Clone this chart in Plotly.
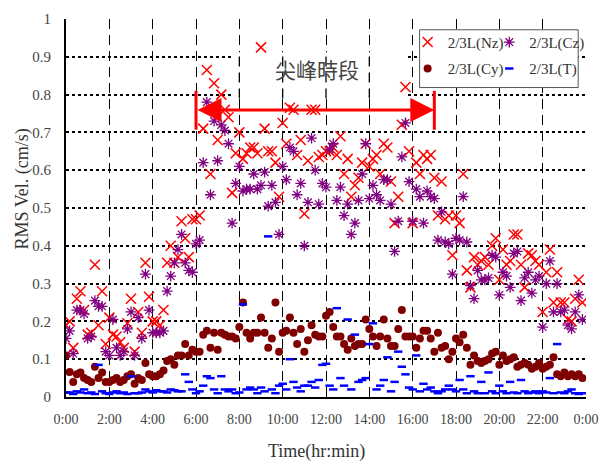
import plotly.graph_objects as go

# ---- data (10-minute samples over one day, minutes since 0:00) ----
minutes = list(range(0, 1440, 10))

nz = [0.19, 0.20, 0.13, 0.26, 0.28, 0.23, 0.165, 0.17, 0.35, 0.19, 0.28, 0.14,
      0.21, 0.165, 0.16, 0.145, 0.13, 0.195, 0.26, 0.12, 0.225, 0.17, 0.355, 0.265,
      0.20, 0.20, 0.19, 0.23, 0.355, 0.40, 0.355, 0.37, 0.465, 0.42, 0.37, 0.47,
      0.47, 0.48, 0.71, 0.865, 0.59, 0.83, 0.68, 0.80, 0.76, 0.74, 0.54, 0.645,
      0.70, 0.63, 0.645, 0.66, 0.66, 0.645, 0.925, 0.71, 0.65, 0.65, 0.62, 0.53,
      0.725, 0.67, 0.765, 0.76, 0.64, 0.68, 0.485, 0.625, 0.76, 0.76, 0.635, 0.64,
      0.65, 0.65, 0.66, 0.64, 0.69, 0.59, 0.63, 0.53, 0.56, 0.58, 0.62, 0.67,
      0.61, 0.63, 0.64, 0.59, 0.67, 0.66, 0.57, 0.46, 0.53, 0.72, 0.82, 0.65,
      0.46, 0.62, 0.59, 0.64, 0.63, 0.64, 0.58, 0.48, 0.57, 0.47, 0.48, 0.375,
      0.48, 0.46, 0.59, 0.335, 0.29, 0.37, 0.35, 0.36, 0.37, 0.35, 0.40, 0.42,
      0.31, 0.39, 0.35, 0.36, 0.43, 0.43, 0.35, 0.29, 0.38, 0.375, 0.36, 0.35,
      0.225, 0.33, 0.39, 0.25, 0.33, 0.25, 0.25, 0.205, 0.20, 0.26, 0.31, 0.25]

cz = [0.155, 0.175, 0.115, 0.23, 0.23, 0.22, 0.155, 0.16, 0.255, 0.24, 0.24, 0.12,
      0.11, 0.205, 0.13, 0.11, 0.12, 0.18, 0.225, 0.11, 0.21, 0.155, 0.325, 0.23,
      0.17, 0.17, 0.17, 0.175, 0.28, 0.32, 0.355, 0.39, 0.43, 0.355, 0.335, 0.33,
      0.405, 0.415, 0.62, 0.78, 0.535, 0.73, 0.625, 0.72, 0.705, 0.67, 0.46, 0.565,
      0.61, 0.545, 0.55, 0.55, 0.59, 0.55, 0.56, 0.595, 0.505, 0.56, 0.515, 0.43,
      0.61, 0.575, 0.66, 0.65, 0.535, 0.565, 0.40, 0.515, 0.685, 0.60, 0.51, 0.565,
      0.555, 0.655, 0.67, 0.52, 0.555, 0.48, 0.51, 0.43, 0.46, 0.52, 0.59, 0.67,
      0.525, 0.56, 0.535, 0.52, 0.575, 0.575, 0.51, 0.385, 0.465, 0.635, 0.725, 0.57,
      0.465, 0.55, 0.53, 0.46, 0.545, 0.53, 0.525, 0.415, 0.49, 0.41, 0.405, 0.325,
      0.42, 0.415, 0.53, 0.41, 0.295, 0.26, 0.335, 0.31, 0.31, 0.315, 0.375, 0.37,
      0.27, 0.33, 0.32, 0.29, 0.38, 0.385, 0.255, 0.315, 0.33, 0.275, 0.31, 0.32,
      0.185, 0.30, 0.36, 0.225, 0.30, 0.225, 0.23, 0.19, 0.18, 0.225, 0.27, 0.205]

cy = [0.11, 0.066, 0.04, 0.06, 0.065, 0.05, 0.045, 0.04, 0.08, 0.05, 0.065, 0.04,
      0.04, 0.045, 0.05, 0.04, 0.045, 0.055, 0.06, 0.035, 0.05, 0.045, 0.09, 0.06,
      0.055, 0.055, 0.06, 0.07, 0.095, 0.10, 0.085, 0.11, 0.11, 0.14, 0.11, 0.125,
      0.12, 0.12, 0.165, 0.175, 0.13, 0.17, 0.125, 0.17, 0.165, 0.16, 0.16, 0.155,
      0.185, 0.25, 0.17, 0.155, 0.17, 0.17, 0.21, 0.17, 0.13, 0.155, 0.25, 0.12,
      0.17, 0.175, 0.21, 0.17, 0.14, 0.18, 0.12, 0.15, 0.19, 0.165, 0.16, 0.16,
      0.215, 0.225, 0.185, 0.16, 0.16, 0.14, 0.125, 0.155, 0.135, 0.14, 0.14, 0.205,
      0.18, 0.16, 0.135, 0.16, 0.205, 0.155, 0.135, 0.135, 0.18, 0.23, 0.16, 0.16,
      0.16, 0.13, 0.155, 0.175, 0.175, 0.155, 0.12, 0.17, 0.13, 0.135, 0.10, 0.12,
      0.155, 0.145, 0.165, 0.13, 0.085, 0.11, 0.095, 0.09, 0.095, 0.10, 0.115, 0.12,
      0.085, 0.11, 0.095, 0.10, 0.105, 0.08, 0.085, 0.09, 0.085, 0.075, 0.08, 0.09,
      0.075, 0.08, 0.085, 0.105, 0.06, 0.055, 0.065, 0.055, 0.06, 0.055, 0.06, 0.05]

t_vals = [0.012, 0.012, 0.008, 0.015, 0.012, 0.02, 0.01, 0.012, 0.008, 0.085, 0.015, 0.01,
          0.008, 0.012, 0.015, 0.01, 0.012, 0.008, 0.055, 0.01, 0.01, 0.012, 0.02, 0.015,
          0.012, 0.018, 0.015, 0.015, 0.012, 0.02, 0.018, 0.015, 0.015, 0.06, 0.04, 0.02,
          0.01, 0.015, 0.03, 0.055, 0.05, 0.02, 0.01, 0.055, 0.02, 0.015, 0.02, 0.01,
          0.012, 0.245, 0.02, 0.025, 0.02, 0.01, 0.025, 0.015, 0.425, 0.02, 0.01, 0.03,
          0.035, 0.02, 0.10, 0.04, 0.025, 0.015, 0.03, 0.03, 0.04, 0.025, 0.045, 0.085,
          0.088, 0.03, 0.02, 0.235, 0.05, 0.03, 0.205, 0.02, 0.165, 0.04, 0.045, 0.05,
          0.14, 0.195, 0.02, 0.03, 0.045, 0.105, 0.015, 0.04, 0.12, 0.08, 0.06, 0.025,
          0.02, 0.11, 0.015, 0.035, 0.02, 0.025, 0.015, 0.01, 0.015, 0.02, 0.03, 0.02,
          0.015, 0.045, 0.02, 0.01, 0.055, 0.015, 0.01, 0.04, 0.01, 0.065, 0.015, 0.01,
          0.03, 0.015, 0.01, 0.04, 0.012, 0.01, 0.045, 0.015, 0.01, 0.012, 0.015, 0.01,
          0.015, 0.012, 0.05, 0.01, 0.14, 0.012, 0.01, 0.015, 0.02, 0.01, 0.008, 0.01]

series_names = ["2/3L(Nz)", "2/3L(Cz)", "2/3L(Cy)", "2/3L(T)"]
x_tick_vals = list(range(0, 1441, 120))
x_tick_text = ["0:00", "2:00", "4:00", "6:00", "8:00", "10:00", "12:00",
               "14:00", "16:00", "18:00", "20:00", "22:00", "0:00"]
y_tick_vals = [0, 0.1, 0.2, 0.3, 0.4, 0.5, 0.6, 0.7, 0.8, 0.9, 1.0]
y_tick_text = ["0", "0.1", "0.2", "0.3", "0.4", "0.5", "0.6", "0.7", "0.8", "0.9", "1"]
peak_start, peak_end, peak_level = 360, 1020, 0.759
peak_label = "尖峰時段"

SERIF = "Liberation Serif, Times New Roman, serif"

fig = go.Figure()
fig.add_trace(go.Scatter(
    x=minutes, y=nz, mode="markers", name=series_names[0], legend="legend",
    legendgroup="g1",
    marker=dict(symbol="x-thin", size=10, color="#ff0000",
                line=dict(color="#ff0000", width=1.5))))
fig.add_trace(go.Scatter(
    x=minutes, y=cy, mode="markers", name=series_names[2], legend="legend",
    legendgroup="g2",
    marker=dict(symbol="circle", size=8, color="#800000", line=dict(width=0))))
fig.add_trace(go.Scatter(
    x=minutes, y=cz, mode="markers", name=series_names[1], legend="legend2",
    legendgroup="g3",
    marker=dict(symbol="asterisk", size=9, color="#800080",
                line=dict(color="#800080", width=1.3))))
fig.add_trace(go.Scatter(
    x=minutes, y=t_vals, mode="markers", name=series_names[3], legend="legend2",
    legendgroup="g4",
    marker=dict(symbol="line-ew", size=6, color="#0000ff",
                line=dict(color="#0000ff", width=2.5))))

legend_common = dict(
    orientation="v", yanchor="top", xanchor="left", bgcolor="rgba(0,0,0,0)",
    borderwidth=0, font=dict(family=SERIF, size=15, color="#333333"),
    tracegroupgap=4, itemwidth=30, traceorder="grouped")
fig.update_layout(
    legend=dict(x=0.657, y=0.982, **legend_common),
    legend2=dict(x=0.814, y=0.982, **legend_common),
)

# legend frame
fig.add_shape(type="rect", xref="paper", yref="paper",
              x0=0.680, x1=0.985, y0=0.8187, y1=0.9715,
              fillcolor="white", line=dict(color="#555555", width=1), layer="above")

# white box behind the peak label (hides horizontal grid)
fig.add_shape(type="rect", xref="x", yref="y", x0=461, x1=941, y0=0.79, y1=0.912,
              fillcolor="white", line=dict(width=0), layer="between")
for xv in [480, 600, 720, 840]:
    fig.add_shape(type="line", xref="x", yref="y", x0=xv, x1=xv, y0=0.79, y1=0.912,
                  line=dict(color="black", width=1.3, dash="10px,6px"), layer="between")

fig.add_annotation(x=695, y=0.868, xref="x", yref="y",
                   text=peak_label, showarrow=False, xanchor="center", yanchor="middle",
                   font=dict(family="Noto Sans CJK TC", size=21, color="#444444"))

# double-headed arrow
fig.add_annotation(x=peak_end, y=peak_level, ax=peak_start, ay=peak_level,
                   xref="x", yref="y", axref="x", ayref="y", text="",
                   showarrow=True, arrowhead=2, startarrowhead=2, arrowside="end+start",
                   arrowsize=1.6, startarrowsize=1.6, arrowwidth=3, arrowcolor="#ff0000")
for xv in [peak_start, peak_end]:
    fig.add_shape(type="line", xref="x", yref="y", x0=xv, x1=xv, y0=0.707, y1=0.81,
                  line=dict(color="#ff0000", width=3), layer="above")

# axis titles
fig.add_annotation(x=-0.084, y=0.55, xref="paper", yref="paper", text="RMS Vel. (cm/s)",
                   textangle=-90, showarrow=False, xanchor="center", yanchor="middle",
                   font=dict(family=SERIF, size=18, color="#333333"))
fig.add_annotation(x=0.481, y=-0.145, xref="paper", yref="paper", text="Time(hr:min)",
                   showarrow=False, xanchor="center", yanchor="middle",
                   font=dict(family=SERIF, size=18, color="#333333"))

fig.update_xaxes(range=[0, 1440], tickvals=x_tick_vals, ticktext=x_tick_text,
                 showgrid=True, gridcolor="black", gridwidth=1.3, griddash="10px,6px",
                 showline=True, linecolor="black", linewidth=2, mirror=False,
                 ticks="", ticklabelstandoff=8, zeroline=False,
                 tickfont=dict(family=SERIF, size=14, color="#444444"))
fig.update_yaxes(range=[0, 1], tickvals=y_tick_vals, ticktext=y_tick_text,
                 showgrid=True, gridcolor="black", gridwidth=2, griddash="dot",
                 showline=True, linecolor="black", linewidth=2, mirror=False,
                 ticks="", ticklabelstandoff=10, zeroline=False,
                 tickfont=dict(family=SERIF, size=15, color="#444444"))

fig.update_layout(
    width=609, height=466,
    margin=dict(l=66, r=21, t=11, b=69),
    plot_bgcolor="white", paper_bgcolor="white",
    showlegend=True,
)

fig.write_html("out.html", config={"displayModeBar": False},
               post_script="document.body.style.margin='0';document.body.style.overflow='hidden';")
